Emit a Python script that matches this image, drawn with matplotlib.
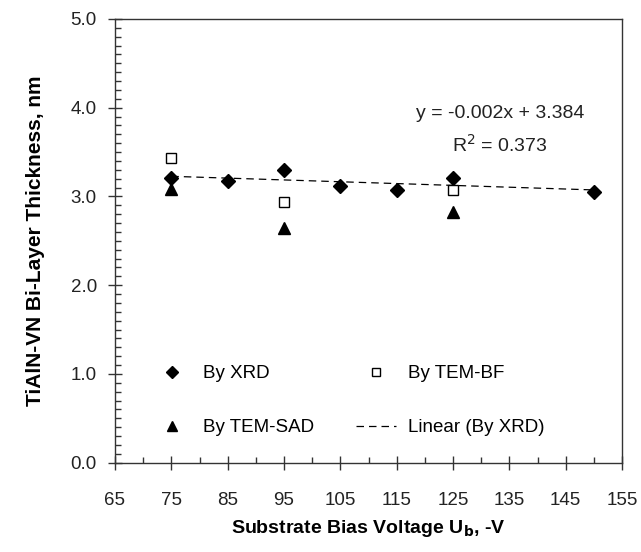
import numpy as np
import matplotlib
matplotlib.use("Agg")
import matplotlib.pyplot as plt
from matplotlib.ticker import MultipleLocator, FormatStrFormatter, FixedLocator

plt.rcParams['font.family'] = ['Liberation Sans', 'DejaVu Sans']

# Data
xrd_x = [75, 85, 95, 105, 115, 125, 150]
xrd_y = [3.21, 3.17, 3.30, 3.12, 3.07, 3.21, 3.05]
bf_x = [75, 95, 125]
bf_y = [3.43, 2.94, 3.07]
sad_x = [75, 95, 125]
sad_y = [3.08, 2.64, 2.83]
x_ticks = [65, 75, 85, 95, 105, 115, 125, 135, 145, 155]
eq_text = "y = -0.002x + 3.384"
r2_text = "R$^2$ = 0.373"

fig = plt.figure(figsize=(6.41, 5.52), dpi=100)
ax = fig.add_axes([0.1794, 0.1618, 0.7910, 0.8038])

h_xrd, = ax.plot(xrd_x, xrd_y, linestyle='none', marker='D', ms=7.5, color='black', label='By XRD', zorder=3)
h_bf, = ax.plot(bf_x, bf_y, linestyle='none', marker='s', ms=7.5, mfc='white', mec='black', mew=1.0,
                label='By TEM-BF', zorder=3)
h_sad, = ax.plot(sad_x, sad_y, linestyle='none', marker='^', ms=9, color='black', label='By TEM-SAD', zorder=3)

coef = np.polyfit(xrd_x, xrd_y, 1)
tx = np.array([min(xrd_x), max(xrd_x)])
h_lin, = ax.plot(tx, np.polyval(coef, tx), linestyle=(0, (6, 4)), color='black', lw=0.9,
                 label='Linear (By XRD)', zorder=2)

ax.text(133.3, 3.93, eq_text, ha='center', va='center', fontsize=14, color='#222222')
ax.text(133.3, 3.58, r2_text, ha='center', va='center', fontsize=14, color='#222222')

ax.set_xlim(65, 155)
ax.set_ylim(0, 5)
ax.xaxis.set_major_locator(FixedLocator(x_ticks))
ax.xaxis.set_minor_locator(MultipleLocator(5))
ax.yaxis.set_major_locator(MultipleLocator(1))
ax.yaxis.set_minor_locator(MultipleLocator(0.1))
ax.yaxis.set_major_formatter(FormatStrFormatter('%.1f'))

ax.tick_params(which='major', direction='inout', length=10, width=1, colors='#333333',
               labelsize=13.5, labelcolor='#222222', pad=8)
ax.tick_params(which='minor', direction='in', length=4, width=1, colors='#333333')
ax.tick_params(axis='x', which='major', pad=16)

for s in ax.spines.values():
    s.set_color('#333333')
    s.set_linewidth(1.0)

ax.set_xlabel('Substrate Bias Voltage U$_\\mathbf{b}$, -V', fontsize=14, fontweight='bold')
ax.xaxis.set_label_coords(0.5, (462.7 - 529) / 443.7)
ax.xaxis.label.set_va('center')
ax.set_ylabel('TiAlN-VN Bi-Layer Thickness, nm', fontsize=15, fontweight='bold')
ax.yaxis.set_label_coords((36 - 115) / 507, 0.5)
ax.yaxis.label.set_va('center')

ax.legend([h_xrd, h_sad, h_bf, h_lin],
          ['By XRD', 'By TEM-SAD', 'By TEM-BF', 'Linear (By XRD)'],
          ncol=2, frameon=False, loc='upper left', bbox_to_anchor=(0.040, 0.258),
          fontsize=13.5, handlelength=2.13, handletextpad=0.6, columnspacing=2.24,
          labelspacing=1.97, markerscale=0.85, numpoints=1)

fig.savefig('out.png', dpi=100)
